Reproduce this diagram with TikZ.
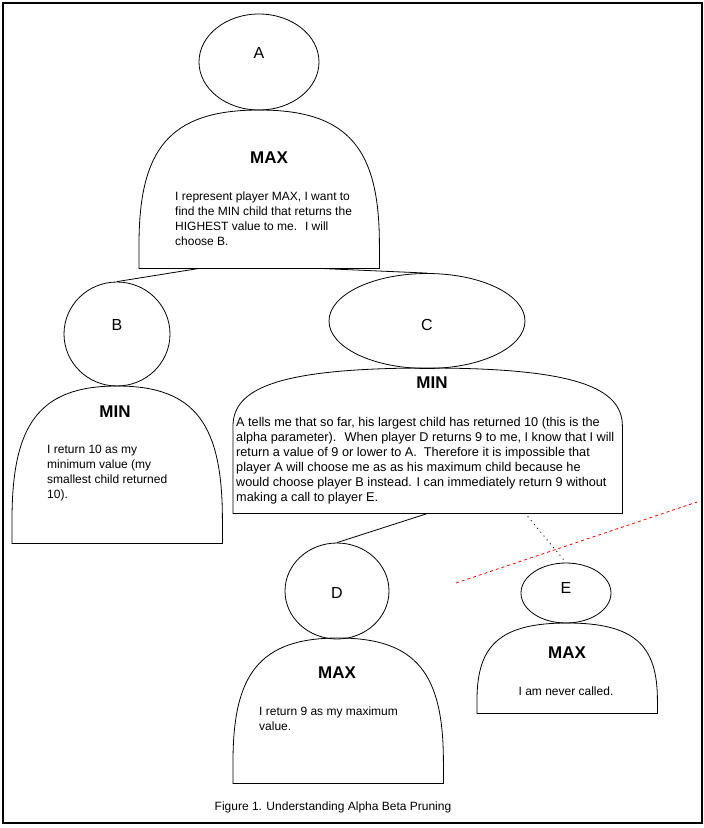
\documentclass[tikz,border=0pt]{standalone}
\usepackage{fontspec}
\setmainfont{Liberation Sans}
\usetikzlibrary{calc}
\usetikzlibrary{shapes.geometric}

% #1 node, #2 straight part of the sides, #3 and #4 where the shoulders bend
\newcommand\torsoline[4]{%
  \draw[torsoline] (#1.south west)
    -- ($(#1.south west)!#2!(#1.north west)$)
    .. controls ($(#1.south west)!#3!(#1.north west)$) and ($(#1.north west)!#4!(#1.north east)$) .. (#1.north)
    .. controls ($(#1.north east)!#4!(#1.north west)$) and ($(#1.south east)!#3!(#1.north east)$) .. ($(#1.south east)!#2!(#1.north east)$)
    -- (#1.south east) -- cycle;}

\begin{document}
\begin{tikzpicture}[x=1pt,y=-1pt]
		\useasboundingbox (0,0) rectangle (704,828);
		\draw[line width=1.2pt] (3,3) rectangle (702,823);

		\tikzset{head/.style = {draw, ellipse, inner sep=0pt, line width=0.8pt}}
		\tikzset{headlabel/.style = {inner sep=0pt, font=\fontsize{16}{19}\selectfont}}
		\tikzset{torso/.style = {rectangle, inner sep=0pt, anchor=north west}}
		\tikzset{torsoline/.style = {line width=0.8pt}}
		\tikzset{role/.style = {inner sep=0pt, font=\fontsize{17}{20}\selectfont\bfseries}}
		\tikzset{says/.style = {inner sep=0pt, align=left, anchor=north west, font=\fontsize{12}{15}\selectfont}}

		% heads
		\node[head, minimum width=120pt, minimum height=96pt] (A) at (259,62) {};
		\node[head, minimum width=106pt, minimum height=104pt] (B) at (117,334) {};
		\node[head, minimum width=196pt, minimum height=95pt] (C) at (427,321) {};
		\node[head, minimum width=104pt, minimum height=96pt] (D) at (337,591) {};
		\node[head, minimum width=90pt, minimum height=60pt] (E) at (566,593) {};
		\node[headlabel] (Alabel) at (259,53) {A};
		\node[headlabel] (Blabel) at (117,325) {B};
		\node[headlabel] (Clabel) at (427,325) {C};
		\node[headlabel] (Dlabel) at (337,593) {D};
		\node[headlabel] (Elabel) at (566,588) {E};

		% bodies
		\node[torso, minimum width=240pt, minimum height=158pt] (Abody) at (139,110) {};
		\node[torso, minimum width=210pt, minimum height=157pt] (Bbody) at (12,386) {};
		\node[torso, minimum width=389pt, minimum height=145pt] (Cbody) at (233,368) {};
		\node[torso, minimum width=210pt, minimum height=145pt] (Dbody) at (233,638) {};
		\node[torso, minimum width=180pt, minimum height=90pt] (Ebody) at (477,623) {};
		\torsoline{Abody}{0.15}{0.75}{0.125}
		\torsoline{Bbody}{0.15}{0.75}{0.125}
		\torsoline{Cbody}{0.6}{0.86}{0.116} % wider, so flatter shoulders
		\torsoline{Dbody}{0.15}{0.75}{0.125}
		\torsoline{Ebody}{0.15}{0.75}{0.125}

		\node[role] (Arole) at (269,158) {MAX};
		\node[role] (Brole) at (115,412) {MIN};
		\node[role] (Crole) at (432,383) {MIN};
		\node[role] (Drole) at (337,673) {MAX};
		\node[role] (Erole) at (567,653) {MAX};

		\node[says] (Asays) at (175,191.7) {I represent player MAX, I want to\\find the MIN child that returns the\\HIGHEST value to me.~ I will\\choose B.};
		\node[says] (Bsays) at (47,444.7) {I return 10 as my\\minimum value (my\\smallest child returned\\10).};
		\node[says, font=\fontsize{12.7}{15}\selectfont] (Csays) at (236,417.2) {A tells me that so far, his largest child has returned 10 (this is the\\alpha parameter).~ When player D returns 9 to me, I know that I will\\return a value of 9 or lower to A.~ Therefore it is impossible that\\player A will choose me as as his maximum child because he\\would choose player B instead. I can immediately return 9 without\\making a call to player E.};
		\node[says] (Dsays) at (259,706.4) {I return 9 as my maximum\\value.};
		\node[says, anchor=base] (Esays) at (566,695) {I am never called.};

		\tikzset{link/.style = {line width=0.8pt}}
		\draw[link] ($(Abody.south)+(-60,0)$) -- (B.north);
		\draw[link] ($(Abody.south)+(60,0)$) -- (C.north);
		\draw[link] (Cbody.south) -- (D.north);
		\draw[link, dash pattern=on 1pt off 4pt] ($(Cbody.south)+(100,3)$) -- (E.north); % never visited

		% the cut
		\coordinate (cutL) at (456,583);
		\coordinate (cutR) at (697,502);
		\draw[red, line width=0.8pt, dash pattern=on 3pt off 3pt] (cutL) -- (cutR);

		\node[inner sep=0pt, anchor=base, font=\fontsize{12}{15}\selectfont] (caption) at (333,810) {Figure 1. Understanding Alpha Beta Pruning};
\end{tikzpicture}
\end{document}
